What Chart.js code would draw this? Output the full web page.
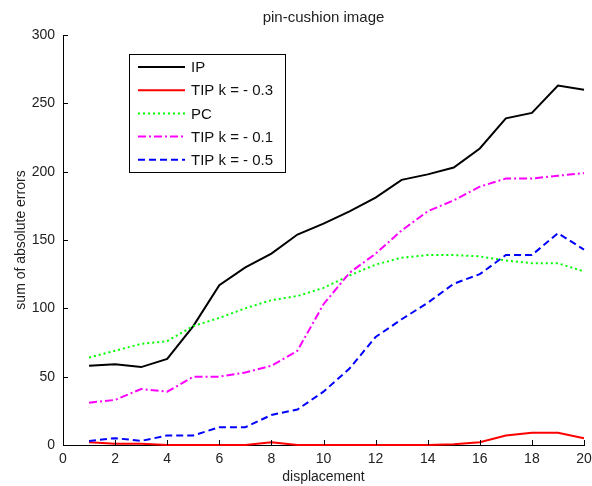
<!DOCTYPE html>
<html>
<head>
<meta charset="utf-8">
<script src="https://cdn.jsdelivr.net/npm/chart.js@4"></script>
<style>
html,body{margin:0;padding:0;background:#fff;}
#wrap{width:592px;height:486px;}
</style>
</head>
<body>
<div id="wrap"><canvas id="c" width="592" height="486"></canvas></div>
<script>
const displacement = [1,2,3,4,5,6,7,8,9,10,11,12,13,14,15,16,17,18,19,20];
const ipValues    = [58,59,57,63,87,117,130,140,154,162,171,181,194,198,203,217,239,243,263,260];
const tip03Values = [2,1,1,0,0,0,0,2,0,0,0,0,0,0,0.5,2,7,9,9,5];
const pcValues    = [64,69,74,76,87,93,100,106,109,115,124,132,137,139,139,138,135,133,133,127];
const tip01Values = [31,33,41,39,50,50,53,58,69,103,126,140,157,171,179,189,195,195,197,199];
const tip05Values = [3,5,3,7,7,13,13,22,26,39,56,79,92,104,118,125,139,139,155,143];
const xTicks = [0,2,4,6,8,10,12,14,16,18,20];
const yTicks = [0,50,100,150,200,250,300];
const seriesNames = ['IP','TIP k = - 0.3','PC','TIP k = - 0.1','TIP k = - 0.5'];

const pts = arr => displacement.map((x,i)=>({x:x,y:arr[i]}));
const FONT = "'Liberation Sans', Arial, sans-serif";
Chart.defaults.font.family = FONT;

const styles = [
  {color:'#000000', dash:[]},
  {color:'#ff0000', dash:[]},
  {color:'#00ff00', dash:[2,3]},
  {color:'#ff00ff', dash:[8,3,2,3]},
  {color:'#0000ff', dash:[7,4]}
];
const allValues = [ipValues,tip03Values,pcValues,tip01Values,tip05Values];

const datasets = allValues.map((v,i)=>({
  label: seriesNames[i],
  data: pts(v),
  borderColor: styles[i].color,
  backgroundColor: styles[i].color,
  borderDash: styles[i].dash,
  borderWidth: 2,
  pointRadius: 0,
  tension: 0,
  fill: false,
  clip: false
}));
datasets.forEach((d,i)=>{ d.order = 5 - i; });

const inwardTicks = {
  id:'inwardTicks',
  afterDatasetsDraw(chart){
    const {ctx, chartArea:a, scales} = chart;
    ctx.save();
    ctx.strokeStyle = '#000';
    ctx.lineWidth = 1;
    ctx.beginPath();
    xTicks.forEach(t=>{
      const px = Math.round(scales.x.getPixelForValue(t))+0.5;
      ctx.moveTo(px, a.bottom); ctx.lineTo(px, a.bottom-5);
    });
    yTicks.forEach(t=>{
      const py = Math.round(scales.y.getPixelForValue(t))+0.5;
      ctx.moveTo(a.left, py); ctx.lineTo(a.left+5, py);
    });
    ctx.stroke();
    ctx.restore();
  }
};

const boxLegend = {
  id:'boxLegend',
  afterDraw(chart){
    const {ctx} = chart;
    const x0 = 129, y0 = 54, w = 156, h = 118;
    ctx.save();
    ctx.fillStyle = '#fff';
    ctx.fillRect(x0, y0, w, h);
    ctx.strokeStyle = '#000';
    ctx.lineWidth = 1;
    ctx.strokeRect(x0+0.5, y0+0.5, w, h);
    ctx.font = '15px ' + FONT;
    ctx.textBaseline = 'middle';
    ctx.textAlign = 'left';
    chart.data.datasets.forEach((d,i)=>{
      const y = y0 + 13 + i*23.2;
      ctx.beginPath();
      ctx.setLineDash(d.borderDash);
      ctx.strokeStyle = d.borderColor;
      ctx.lineWidth = 2;
      ctx.moveTo(x0+9, y); ctx.lineTo(x0+56, y);
      ctx.stroke();
      ctx.setLineDash([]);
      ctx.fillStyle = '#111';
      ctx.fillText(d.label, x0+62, y+1);
    });
    ctx.restore();
  }
};

new Chart(document.getElementById('c'), {
  type:'line',
  data:{datasets:datasets},
  options:{
    responsive:false,
    animation:false,
    devicePixelRatio:1,
    layout:{padding:{left:0,right:0,top:0,bottom:0}},
    plugins:{legend:{display:false}, tooltip:{enabled:false}, title:{display:false}},
    scales:{
      x:{
        type:'linear', position:'bottom', min:0, max:20,
        afterBuildTicks(s){ s.ticks = xTicks.map(v=>({value:v})); },
        ticks:{padding:6, color:'#222', font:{size:14}, maxRotation:0, autoSkip:false},
        grid:{display:true, drawOnChartArea:false, drawTicks:false},
        border:{display:true, color:'#000', width:1},
        title:{display:true, text:'displacement', color:'#222', font:{size:14}, padding:{top:0,bottom:0}},
        afterFit(s){ s.height = 41; s.paddingRight = 8; s.paddingLeft = 0; }
      },
      x2:{
        type:'linear', position:'top', min:0, max:20,
        ticks:{display:false},
        grid:{display:false, drawTicks:false},
        border:{display:false},
        title:{display:true, text:'pin-cushion image', color:'#222', font:{size:15}, padding:{top:9,bottom:0}},
        afterFit(s){ s.height = 35; s.paddingRight = 0; s.paddingLeft = 0; }
      },
      y:{
        type:'linear', min:0, max:300,
        afterBuildTicks(s){ s.ticks = yTicks.map(v=>({value:v})); },
        ticks:{padding:8, color:'#222', font:{size:14}},
        grid:{display:true, drawOnChartArea:false, drawTicks:false},
        border:{display:true, color:'#000', width:1},
        title:{display:true, text:'sum of absolute errors', color:'#222', font:{size:14}, padding:{top:13,bottom:0}},
        afterFit(s){ s.width = 63; }
      }
    }
  },
  plugins:[inwardTicks, boxLegend]
});
</script>
</body>
</html>
